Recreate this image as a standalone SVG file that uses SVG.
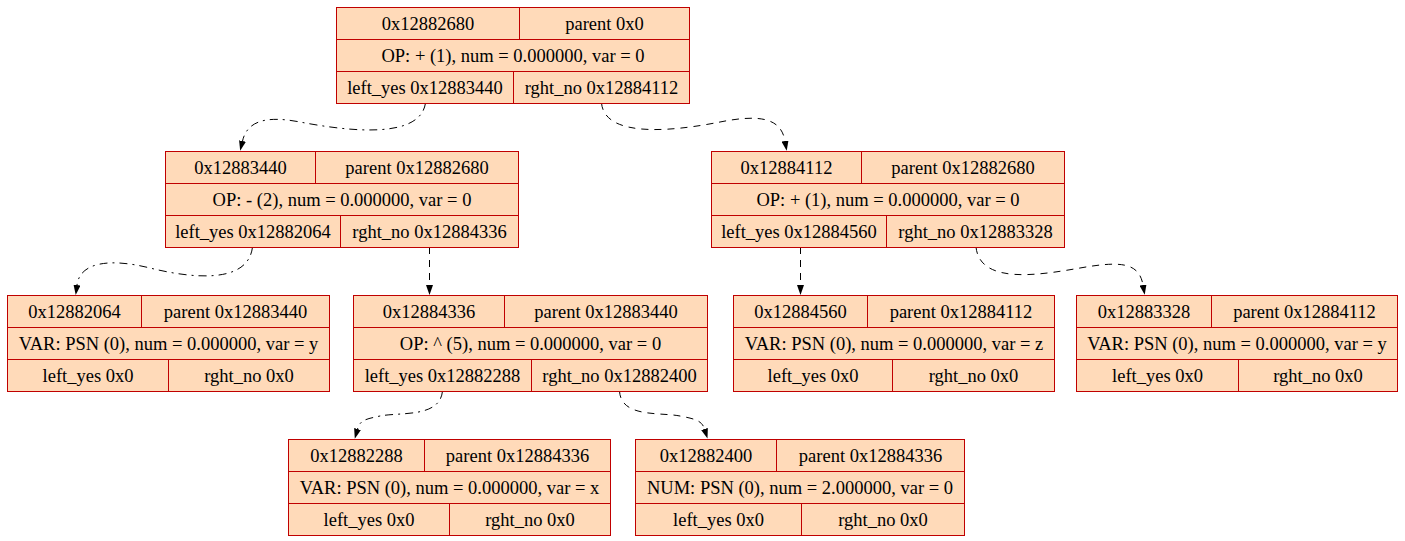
<svg xmlns="http://www.w3.org/2000/svg" width="1405" height="541" viewBox="0 0 1405 541">
<style>
.box{fill:#ffdab9;stroke:#c00000;stroke-width:1}
.div{stroke:#c00000;stroke-width:1;fill:none}
text{font-family:"Liberation Serif","Times New Roman",serif;font-size:18.5px;fill:#000;text-anchor:middle}
.e{fill:none;stroke:#000;stroke-width:1}
.dash{stroke-dasharray:7,6}
.dd{stroke-dasharray:8,5,2,5}
</style>
<defs>
<marker id="arr" markerUnits="userSpaceOnUse" viewBox="0 0 10 7" markerWidth="10" markerHeight="7" refX="0" refY="3.5" orient="auto">
<path d="M0,0 L10,3.5 L0,7 z" fill="#000"/>
</marker>
</defs>
<rect width="1405" height="541" fill="#fff"/>
<g id="connectors">
<path class="e dd" marker-end="url(#arr)" d="M425.5,103 C420,140 347,131 300,122 C264,115 247,122 242.5,141"/>
<path class="e dash" marker-end="url(#arr)" d="M601.5,103 C605,140 680,130 720,122 C760,114 781,118 785,141"/>
<path class="e dd" marker-end="url(#arr)" d="M252.5,247 C248,285 190,278 150,268 C110,258 80,262 77,285"/>
<path class="e dash" marker-end="url(#arr)" d="M429.5,247 L429.5,285"/>
<path class="e dash" marker-end="url(#arr)" d="M800.5,247 L800.5,285"/>
<path class="e dash" marker-end="url(#arr)" d="M976,247 C980,285 1040,275 1080,268 C1120,261 1139,262 1143,285"/>
<path class="e dd" marker-end="url(#arr)" d="M442.5,391 C440,418 400,412 380,416 C366,419 360,420 357.5,429"/>
<path class="e dash" marker-end="url(#arr)" d="M619.5,391 C621,418 660,412 680,416 C696,419 702,421 704.5,429"/>
</g>
<g id="n12882680">
<rect class="box" x="336.5" y="7.5" width="353" height="96"/>
<path class="div" d="M336.5,39.5H689.5M336.5,71.5H689.5M519.5,7.5V39.5M513.5,71.5V103.5"/>
<text x="428" y="29.5">0x12882680</text><text x="604.5" y="29.5">parent 0x0</text>
<text x="513" y="61.5">OP: + (1), num = 0.000000, var = 0</text>
<text x="425" y="93.5">left_yes 0x12883440</text><text x="601.5" y="93.5">rght_no 0x12884112</text>
</g>
<g id="n12883440">
<rect class="box" x="165.5" y="151.5" width="353" height="96"/>
<path class="div" d="M165.5,183.5H518.5M165.5,215.5H518.5M315.5,151.5V183.5M340.5,215.5V247.5"/>
<text x="240.5" y="173.5">0x12883440</text><text x="417" y="173.5">parent 0x12882680</text>
<text x="342" y="205.5">OP: - (2), num = 0.000000, var = 0</text>
<text x="253" y="237.5">left_yes 0x12882064</text><text x="429.5" y="237.5">rght_no 0x12884336</text>
</g>
<g id="n12884112">
<rect class="box" x="711.5" y="151.5" width="353" height="96"/>
<path class="div" d="M711.5,183.5H1064.5M711.5,215.5H1064.5M861.5,151.5V183.5M886.5,215.5V247.5"/>
<text x="786.5" y="173.5">0x12884112</text><text x="963" y="173.5">parent 0x12882680</text>
<text x="888" y="205.5">OP: + (1), num = 0.000000, var = 0</text>
<text x="799" y="237.5">left_yes 0x12884560</text><text x="975.5" y="237.5">rght_no 0x12883328</text>
</g>
<g id="n12882064">
<rect class="box" x="7.5" y="295.5" width="322" height="96"/>
<path class="div" d="M7.5,327.5H329.5M7.5,359.5H329.5M141.5,295.5V327.5M168.5,359.5V391.5"/>
<text x="74.5" y="317.5">0x12882064</text><text x="235.5" y="317.5">parent 0x12883440</text>
<text x="168.5" y="349.5">VAR: PSN (0), num = 0.000000, var = y</text>
<text x="88" y="381.5">left_yes 0x0</text><text x="249" y="381.5">rght_no 0x0</text>
</g>
<g id="n12884336">
<rect class="box" x="353.5" y="295.5" width="354" height="96"/>
<path class="div" d="M353.5,327.5H707.5M353.5,359.5H707.5M504.5,295.5V327.5M531.5,359.5V391.5"/>
<text x="429" y="317.5">0x12884336</text><text x="606" y="317.5">parent 0x12883440</text>
<text x="530.5" y="349.5">OP: ^ (5), num = 0.000000, var = 0</text>
<text x="442.5" y="381.5">left_yes 0x12882288</text><text x="619.5" y="381.5">rght_no 0x12882400</text>
</g>
<g id="n12884560">
<rect class="box" x="733.5" y="295.5" width="321" height="96"/>
<path class="div" d="M733.5,327.5H1054.5M733.5,359.5H1054.5M867.5,295.5V327.5M892.5,359.5V391.5"/>
<text x="800.5" y="317.5">0x12884560</text><text x="961" y="317.5">parent 0x12884112</text>
<text x="894" y="349.5">VAR: PSN (0), num = 0.000000, var = z</text>
<text x="813" y="381.5">left_yes 0x0</text><text x="973.5" y="381.5">rght_no 0x0</text>
</g>
<g id="n12883328">
<rect class="box" x="1076.5" y="295.5" width="321" height="96"/>
<path class="div" d="M1076.5,327.5H1397.5M1076.5,359.5H1397.5M1211.5,295.5V327.5M1238.5,359.5V391.5"/>
<text x="1144" y="317.5">0x12883328</text><text x="1304.5" y="317.5">parent 0x12884112</text>
<text x="1237" y="349.5">VAR: PSN (0), num = 0.000000, var = y</text>
<text x="1157.5" y="381.5">left_yes 0x0</text><text x="1318" y="381.5">rght_no 0x0</text>
</g>
<g id="n12882288">
<rect class="box" x="288.5" y="439.5" width="322" height="96"/>
<path class="div" d="M288.5,471.5H610.5M288.5,503.5H610.5M424.5,439.5V471.5M449.5,503.5V535.5"/>
<text x="356.5" y="461.5">0x12882288</text><text x="517.5" y="461.5">parent 0x12884336</text>
<text x="449.5" y="493.5">VAR: PSN (0), num = 0.000000, var = x</text>
<text x="369" y="525.5">left_yes 0x0</text><text x="530" y="525.5">rght_no 0x0</text>
</g>
<g id="n12882400">
<rect class="box" x="635.5" y="439.5" width="329" height="96"/>
<path class="div" d="M635.5,471.5H964.5M635.5,503.5H964.5M776.5,439.5V471.5M801.5,503.5V535.5"/>
<text x="706" y="461.5">0x12882400</text><text x="870.5" y="461.5">parent 0x12884336</text>
<text x="800" y="493.5">NUM: PSN (0), num = 2.000000, var = 0</text>
<text x="718.5" y="525.5">left_yes 0x0</text><text x="883" y="525.5">rght_no 0x0</text>
</g>
</svg>
